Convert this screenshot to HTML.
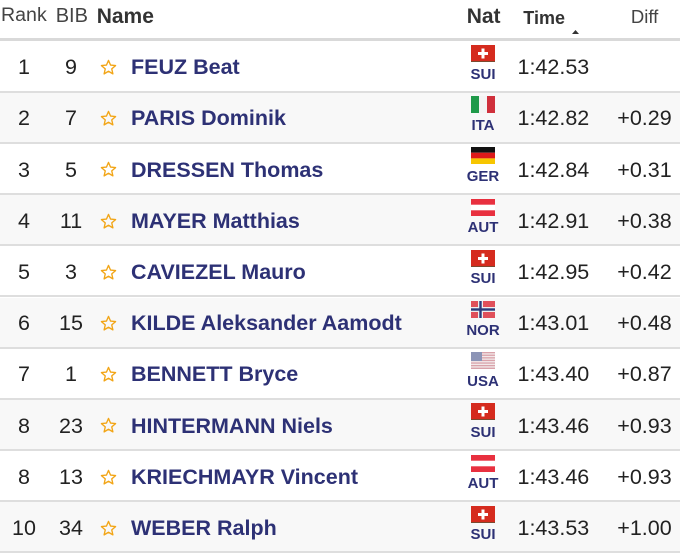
<!DOCTYPE html>
<html><head><meta charset="utf-8">
<style>
*{margin:0;padding:0;box-sizing:border-box}
html,body{width:680px;height:552px;overflow:hidden;background:#fff;font-family:"Liberation Sans",Arial,sans-serif}
.h{position:absolute;line-height:1;white-space:nowrap;color:#444}
.hl{position:absolute;left:0;top:38px;width:680px;height:3px;background:#d9d9d9}
.row{position:absolute;left:0;width:680px;height:51.2px;border-bottom:2px solid #dedede}
.row.g{background:#f8f8f8}
.row span{position:absolute;line-height:1;white-space:nowrap;font-size:21.5px;color:#222;top:15.8px}
.rk{left:0;width:48px;text-align:center}
.bib{left:47px;width:48px;text-align:center}
.nm{left:131px;font-weight:bold;color:#2d3175 !important}
.tm{left:517.5px}
.df{right:8.3px}
.cd{left:463px;width:40px;text-align:center;font-weight:bold;font-size:15px !important;color:#2d3175 !important;top:25px !important}
.row svg{position:absolute}
.st{left:99.5px;top:17.5px}
.fl{left:471px;top:3.5px}
</style></head><body>
<div class="h" style="left:1px;top:6px;font-size:19.6px">Rank</div>
<div class="h" style="left:55.7px;top:6px;font-size:20px">BIB</div>
<div class="h" style="left:96.7px;top:5.5px;font-size:21px;font-weight:bold;color:#333">Name</div>
<div class="h" style="left:466.7px;top:5.5px;font-size:21px;font-weight:bold;color:#333">Nat</div>
<div class="h" style="left:523.3px;top:8.5px;font-size:18px;font-weight:bold;color:#333">Time</div>
<div class="h" style="right:21.7px;top:8px;font-size:18.5px">Diff</div>
<svg style="position:absolute;left:572px;top:29.5px" width="7" height="4"><polygon points="0,4 3.5,0 7,4" fill="#333"/></svg>
<div class="hl"></div>

<div class="row" style="top:41.5px"><span class="rk">1</span><span class="bib">9</span><svg class="st" width="17" height="17" viewBox="0 0 24 24"><polygon points="12,2 14.9,8.6 22,9.3 16.6,14 18.2,21 12,17.3 5.8,21 7.4,14 2,9.3 9.1,8.6" fill="none" stroke="#f2a516" stroke-width="1.9" stroke-linejoin="round"/></svg><span class="nm">FEUZ Beat</span><svg class="fl" width="24" height="17"><rect width="24" height="17" fill="#d52b1e"/><rect y="16" width="24" height="1" fill="#7a4a30"/><rect x="10.5" y="3.5" width="3" height="10" fill="#fff"/><rect x="7" y="7" width="10" height="3" fill="#fff"/></svg><span class="cd">SUI</span><span class="tm">1:42.53</span><span class="df"></span></div>

<div class="row g" style="top:92.7px"><span class="rk">2</span><span class="bib">7</span><svg class="st" width="17" height="17" viewBox="0 0 24 24"><polygon points="12,2 14.9,8.6 22,9.3 16.6,14 18.2,21 12,17.3 5.8,21 7.4,14 2,9.3 9.1,8.6" fill="none" stroke="#f2a516" stroke-width="1.9" stroke-linejoin="round"/></svg><span class="nm">PARIS Dominik</span><svg class="fl" width="24" height="17"><rect width="8" height="17" fill="#1f9a4a"/><rect x="8" width="8" height="17" fill="#f4f4f4"/><rect x="16" width="8" height="17" fill="#d0303c"/></svg><span class="cd">ITA</span><span class="tm">1:42.82</span><span class="df">+0.29</span></div>

<div class="row" style="top:143.9px"><span class="rk">3</span><span class="bib">5</span><svg class="st" width="17" height="17" viewBox="0 0 24 24"><polygon points="12,2 14.9,8.6 22,9.3 16.6,14 18.2,21 12,17.3 5.8,21 7.4,14 2,9.3 9.1,8.6" fill="none" stroke="#f2a516" stroke-width="1.9" stroke-linejoin="round"/></svg><span class="nm">DRESSEN Thomas</span><svg class="fl" width="24" height="17"><rect width="24" height="5.7" fill="#111"/><rect y="5.7" width="24" height="5.7" fill="#dd1a1a"/><rect y="11.4" width="24" height="5.6" fill="#f7c600"/></svg><span class="cd">GER</span><span class="tm">1:42.84</span><span class="df">+0.31</span></div>

<div class="row g" style="top:195.1px"><span class="rk">4</span><span class="bib">11</span><svg class="st" width="17" height="17" viewBox="0 0 24 24"><polygon points="12,2 14.9,8.6 22,9.3 16.6,14 18.2,21 12,17.3 5.8,21 7.4,14 2,9.3 9.1,8.6" fill="none" stroke="#f2a516" stroke-width="1.9" stroke-linejoin="round"/></svg><span class="nm">MAYER Matthias</span><svg class="fl" width="24" height="17"><rect width="24" height="17" fill="#e8303f"/><rect y="5.7" width="24" height="5.6" fill="#fff"/></svg><span class="cd">AUT</span><span class="tm">1:42.91</span><span class="df">+0.38</span></div>

<div class="row" style="top:246.3px"><span class="rk">5</span><span class="bib">3</span><svg class="st" width="17" height="17" viewBox="0 0 24 24"><polygon points="12,2 14.9,8.6 22,9.3 16.6,14 18.2,21 12,17.3 5.8,21 7.4,14 2,9.3 9.1,8.6" fill="none" stroke="#f2a516" stroke-width="1.9" stroke-linejoin="round"/></svg><span class="nm">CAVIEZEL Mauro</span><svg class="fl" width="24" height="17"><rect width="24" height="17" fill="#d52b1e"/><rect y="16" width="24" height="1" fill="#7a4a30"/><rect x="10.5" y="3.5" width="3" height="10" fill="#fff"/><rect x="7" y="7" width="10" height="3" fill="#fff"/></svg><span class="cd">SUI</span><span class="tm">1:42.95</span><span class="df">+0.42</span></div>

<div class="row g" style="top:297.5px"><span class="rk">6</span><span class="bib">15</span><svg class="st" width="17" height="17" viewBox="0 0 24 24"><polygon points="12,2 14.9,8.6 22,9.3 16.6,14 18.2,21 12,17.3 5.8,21 7.4,14 2,9.3 9.1,8.6" fill="none" stroke="#f2a516" stroke-width="1.9" stroke-linejoin="round"/></svg><span class="nm">KILDE Aleksander Aamodt</span><svg class="fl" width="24" height="17"><rect width="24" height="17" fill="#e0505a"/><rect x="7" width="5" height="17" fill="#eee"/><rect y="6" width="24" height="5" fill="#eee"/><rect x="8.3" width="2.4" height="17" fill="#2a3a7a"/><rect y="7.3" width="24" height="2.4" fill="#2a3a7a"/></svg><span class="cd">NOR</span><span class="tm">1:43.01</span><span class="df">+0.48</span></div>

<div class="row" style="top:348.7px"><span class="rk">7</span><span class="bib">1</span><svg class="st" width="17" height="17" viewBox="0 0 24 24"><polygon points="12,2 14.9,8.6 22,9.3 16.6,14 18.2,21 12,17.3 5.8,21 7.4,14 2,9.3 9.1,8.6" fill="none" stroke="#f2a516" stroke-width="1.9" stroke-linejoin="round"/></svg><span class="nm">BENNETT Bryce</span><svg class="fl" width="24" height="17"><rect width="24" height="17" fill="#f2e9ea"/><rect y="0" width="24" height="1.3" fill="#d9a2aa"/><rect y="2.6" width="24" height="1.3" fill="#d9a2aa"/><rect y="5.2" width="24" height="1.3" fill="#d9a2aa"/><rect y="7.8" width="24" height="1.3" fill="#d9a2aa"/><rect y="10.4" width="24" height="1.3" fill="#d9a2aa"/><rect y="13" width="24" height="1.3" fill="#d9a2aa"/><rect y="15.6" width="24" height="1.4" fill="#d9a2aa"/><rect width="11" height="9" fill="#8c94b6"/></svg><span class="cd">USA</span><span class="tm">1:43.40</span><span class="df">+0.87</span></div>

<div class="row g" style="top:399.9px"><span class="rk">8</span><span class="bib">23</span><svg class="st" width="17" height="17" viewBox="0 0 24 24"><polygon points="12,2 14.9,8.6 22,9.3 16.6,14 18.2,21 12,17.3 5.8,21 7.4,14 2,9.3 9.1,8.6" fill="none" stroke="#f2a516" stroke-width="1.9" stroke-linejoin="round"/></svg><span class="nm">HINTERMANN Niels</span><svg class="fl" width="24" height="17"><rect width="24" height="17" fill="#d52b1e"/><rect y="16" width="24" height="1" fill="#7a4a30"/><rect x="10.5" y="3.5" width="3" height="10" fill="#fff"/><rect x="7" y="7" width="10" height="3" fill="#fff"/></svg><span class="cd">SUI</span><span class="tm">1:43.46</span><span class="df">+0.93</span></div>

<div class="row" style="top:451.1px"><span class="rk">8</span><span class="bib">13</span><svg class="st" width="17" height="17" viewBox="0 0 24 24"><polygon points="12,2 14.9,8.6 22,9.3 16.6,14 18.2,21 12,17.3 5.8,21 7.4,14 2,9.3 9.1,8.6" fill="none" stroke="#f2a516" stroke-width="1.9" stroke-linejoin="round"/></svg><span class="nm">KRIECHMAYR Vincent</span><svg class="fl" width="24" height="17"><rect width="24" height="17" fill="#e8303f"/><rect y="5.7" width="24" height="5.6" fill="#fff"/></svg><span class="cd">AUT</span><span class="tm">1:43.46</span><span class="df">+0.93</span></div>

<div class="row g" style="top:502.3px"><span class="rk">10</span><span class="bib">34</span><svg class="st" width="17" height="17" viewBox="0 0 24 24"><polygon points="12,2 14.9,8.6 22,9.3 16.6,14 18.2,21 12,17.3 5.8,21 7.4,14 2,9.3 9.1,8.6" fill="none" stroke="#f2a516" stroke-width="1.9" stroke-linejoin="round"/></svg><span class="nm">WEBER Ralph</span><svg class="fl" width="24" height="17"><rect width="24" height="17" fill="#d52b1e"/><rect y="16" width="24" height="1" fill="#7a4a30"/><rect x="10.5" y="3.5" width="3" height="10" fill="#fff"/><rect x="7" y="7" width="10" height="3" fill="#fff"/></svg><span class="cd">SUI</span><span class="tm">1:43.53</span><span class="df">+1.00</span></div>
</body></html>
